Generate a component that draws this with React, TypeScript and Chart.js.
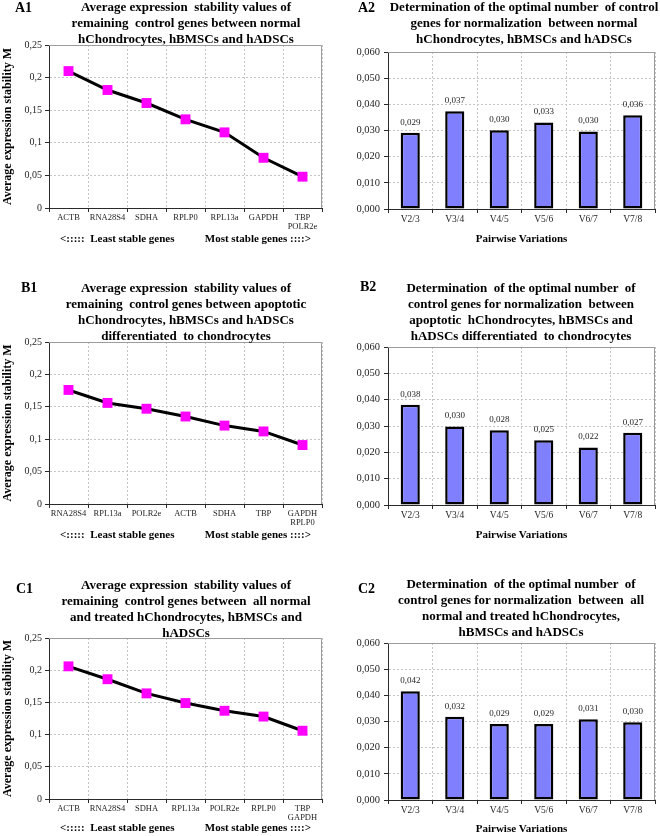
import React, { useEffect, useRef } from 'react';
import { Chart, registerables } from 'chart.js';

Chart.register(...registerables);

const SERIF = "'Liberation Serif', 'Times New Roman', Times, serif";

// ---------- DATA ----------
// A1: normal hChondrocytes, hBMSCs and hADSCs (geNorm M values)
const a1Genes: (string | string[])[] = ['ACTB', 'RNA28S4', 'SDHA', 'RPLP0', 'RPL13a', 'GAPDH', ['TBP', 'POLR2e']];
const a1Stability = [0.210, 0.181, 0.161, 0.136, 0.116, 0.077, 0.048];

// B1: apoptotic cells differentiated to chondrocytes
const b1Genes: (string | string[])[] = ['RNA28S4', 'RPL13a', 'POLR2e', 'ACTB', 'SDHA', 'TBP', ['GAPDH', 'RPLP0']];
const b1Stability = [0.176, 0.156, 0.147, 0.135, 0.121, 0.112, 0.091];

// C1: all normal and treated cells
const c1Genes: (string | string[])[] = ['ACTB', 'RNA28S4', 'SDHA', 'RPL13a', 'POLR2e', 'RPLP0', ['TBP', 'GAPDH']];
const c1Stability = [0.206, 0.186, 0.164, 0.149, 0.137, 0.128, 0.106];

// Pairwise variations (A2, B2, C2)
const pairwiseLabels = ['V2/3', 'V3/4', 'V4/5', 'V5/6', 'V6/7', 'V7/8'];
const a2Variation = [0.0291, 0.0374, 0.0301, 0.0331, 0.0296, 0.0358];
const b2Variation = [0.0381, 0.0298, 0.0284, 0.0246, 0.0218, 0.0274];
const c2Variation = [0.0416, 0.0318, 0.0290, 0.0290, 0.0309, 0.0297];

// Axis ranges / ticks
const stabilityMax = 0.25;
const stabilityStep = 0.05;
const variationMax = 0.06;
const variationStep = 0.01;

// Texts
const stabilityAxisTitle = 'Average expression stability M';
const stabilityXTitle = '<:::::  Least stable genes\u00a0\u00a0\u00a0\u00a0\u00a0\u00a0\u00a0\u00a0\u00a0\u00a0\u00a0Most stable genes ::::>';
const variationXTitle = 'Pairwise Variations';

const a1Title = ['Average expression  stability values of', 'remaining  control genes between normal', 'hChondrocytes, hBMSCs and hADSCs'];
const a2Title = ['Determination of the optimal number  of control', 'genes for normalization  between normal', 'hChondrocytes, hBMSCs and hADSCs'];
const b1Title = ['Average expression  stability values of', 'remaining  control genes between apoptotic', 'hChondrocytes, hBMSCs and hADSCs', 'differentiated  to chondrocytes'];
const b2Title = ['Determination  of the optimal number  of', 'control genes for normalization  between', 'apoptotic  hChondrocytes, hBMSCs and', 'hADSCs differentiated  to chondrocytes'];
const c1Title = ['Average expression  stability values of', 'remaining  control genes between  all normal', 'and treated hChondrocytes, hBMSCs and', 'hADSCs'];
const c2Title = ['Determination  of the optimal number  of', 'control genes for normalization  between  all', 'normal and treated hChondrocytes,', 'hBMSCs and hADSCs'];

// ---------- STYLE ----------
const GRID = '#c4c4c4';
const AXIS = '#2a2a2a';
const TICK = '#1e1e1e';
const FRAME = '#9c9c9c';
const MARKER = '#ff00ff';
const BAR_FILL = '#8080ff';

type Geo = {
  left: number; top: number; width: number; height: number;
  plotLeft: number; plotTop: number; plotRight: number; plotBottom: number;
  xAxisHeight: number;
};

const fmtStability = (v: number) => {
  const s = String(Number(v.toFixed(2)));
  return s.replace('.', ',');
};
const fmtVariation = (v: number) => v.toFixed(3).replace('.', ',');

const plotFrame = {
  id: 'plotFrame',
  beforeDatasetsDraw(chart: any) {
    const { ctx, chartArea } = chart;
    const { left, top, right, bottom } = chartArea;
    ctx.save();
    ctx.strokeStyle = FRAME;
    ctx.lineWidth = 1;
    ctx.beginPath();
    ctx.moveTo(left, top + 0.5);
    ctx.lineTo(right - 0.5, top + 0.5);
    ctx.lineTo(right - 0.5, bottom);
    ctx.stroke();
    ctx.restore();
  },
};

const barValueLabels = {
  id: 'barValueLabels',
  afterDatasetsDraw(chart: any) {
    const { ctx } = chart;
    const meta = chart.getDatasetMeta(0);
    const data = chart.data.datasets[0].data as number[];
    ctx.save();
    ctx.font = `9px ${SERIF}`;
    ctx.fillStyle = TICK;
    ctx.textAlign = 'center';
    ctx.textBaseline = 'bottom';
    meta.data.forEach((el: any, i: number) => {
      ctx.fillText(fmtVariation(data[i]), el.x, el.y - 6);
    });
    ctx.restore();
  },
};

function commonX(geo: Geo, tickSize: number, titleText: string, tickPadding: number) {
  return {
    type: 'category',
    offset: true,
    grid: {
      offset: true,
      color: (c: any) => (c.index === 0 ? 'rgba(0,0,0,0)' : GRID),
      lineWidth: 1,
      tickColor: AXIS,
      tickLength: 4,
      drawOnChartArea: true,
    },
    border: { color: AXIS, width: 1, dash: [2, 2] },
    ticks: {
      font: { family: SERIF, size: tickSize, lineHeight: 1.1 },
      color: TICK,
      padding: tickPadding,
      maxRotation: 0,
      minRotation: 0,
      autoSkip: false,
    },
    title: {
      display: true,
      text: titleText,
      font: { family: SERIF, size: 11, weight: 'bold', lineHeight: 1.2 },
      color: '#000',
      padding: { top: 0, bottom: 0 },
    },
    afterFit: (s: any) => { s.height = geo.xAxisHeight; },
  };
}

function commonY(geo: Geo, max: number, step: number, fmt: (v: number) => string, tickSize: number, tickPad: number, title?: string) {
  return {
    min: 0,
    max,
    grid: {
      color: (c: any) => (c.tick && Math.abs(c.tick.value) < 1e-9 ? 'rgba(0,0,0,0)' : GRID),
      lineWidth: 1,
      tickColor: AXIS,
      tickLength: 4,
    },
    border: { color: AXIS, width: 1, dash: [2, 2] },
    ticks: {
      stepSize: step,
      font: { family: SERIF, size: tickSize },
      color: TICK,
      padding: tickPad,
      callback: (v: any) => fmt(Number(v)),
    },
    title: title
      ? {
          display: true,
          text: title,
          font: { family: SERIF, size: 12, weight: 'bold', lineHeight: 1.2 },
          color: '#000',
          padding: { top: 1, bottom: 0 },
        }
      : { display: false },
    afterFit: (s: any) => { s.width = geo.plotLeft; },
  };
}

function baseOptions(geo: Geo) {
  return {
    responsive: false,
    maintainAspectRatio: false,
    animation: false,
    devicePixelRatio: 1,
    layout: {
      padding: {
        top: geo.plotTop,
        left: 0,
        right: geo.width - geo.plotRight,
        bottom: geo.height - geo.plotBottom - geo.xAxisHeight,
      },
    },
    plugins: {
      legend: { display: false },
      tooltip: { enabled: false },
      title: { display: false },
    },
  };
}

function lineConfig(labels: (string | string[])[], values: number[], geo: Geo): any {
  return {
    type: 'line',
    data: {
      labels,
      datasets: [
        {
          data: values,
          borderColor: '#000',
          borderWidth: 3,
          tension: 0,
          fill: false,
          pointStyle: 'rect',
          pointRadius: 7,
          pointBackgroundColor: MARKER,
          pointBorderColor: MARKER,
          pointBorderWidth: 0,
        },
      ],
    },
    options: {
      ...baseOptions(geo),
      scales: {
        x: commonX(geo, 8.5, stabilityXTitle, 1),
        y: commonY(geo, stabilityMax, stabilityStep, fmtStability, 10, 3, stabilityAxisTitle),
      },
    },
    plugins: [plotFrame],
  };
}

function barConfig(labels: string[], values: number[], geo: Geo): any {
  return {
    type: 'bar',
    data: {
      labels,
      datasets: [
        {
          data: values,
          backgroundColor: BAR_FILL,
          borderColor: '#000',
          borderWidth: 2.5,
          borderSkipped: false,
          categoryPercentage: 1,
          barPercentage: 0.43,
        },
      ],
    },
    options: {
      ...baseOptions(geo),
      scales: {
        x: commonX(geo, 9.5, variationXTitle, 1),
        y: commonY(geo, variationMax, variationStep, fmtVariation, 10.5, 4),
      },
    },
    plugins: [plotFrame, barValueLabels],
  };
}

type PanelProps = {
  geo: Geo;
  config: any;
  title: string[];
  titleCenter: number;
  titleTop: number;
  label: string;
  labelLeft: number;
  labelTop: number;
};

function Panel({ geo, config, title, titleCenter, titleTop, label, labelLeft, labelTop }: PanelProps) {
  const ref = useRef<HTMLCanvasElement | null>(null);
  useEffect(() => {
    if (!ref.current) return;
    const chart = new Chart(ref.current, config);
    return () => chart.destroy();
  }, [config]);
  return (
    <>
      <canvas
        ref={ref}
        width={geo.width}
        height={geo.height}
        style={{ position: 'absolute', left: geo.left, top: geo.top, width: geo.width, height: geo.height }}
      />
      <div
        style={{
          position: 'absolute',
          left: titleCenter - 170,
          top: titleTop,
          width: 340,
          textAlign: 'center',
          fontFamily: SERIF,
          fontWeight: 'bold',
          fontSize: 13,
          lineHeight: '16px',
          whiteSpace: 'pre',
          color: '#000',
        }}
      >
        {title.join('\n')}
      </div>
      <div
        style={{
          position: 'absolute',
          left: labelLeft,
          top: labelTop,
          fontFamily: SERIF,
          fontWeight: 'bold',
          fontSize: 14,
          lineHeight: '16px',
          color: '#000',
        }}
      >
        {label}
      </div>
    </>
  );
}

const geoA1: Geo = { left: 0, top: 0, width: 330, height: 250, plotLeft: 49, plotTop: 45, plotRight: 322, plotBottom: 208, xAxisHeight: 38 };
const geoA2: Geo = { left: 330, top: 0, width: 330, height: 250, plotLeft: 58, plotTop: 52, plotRight: 325, plotBottom: 209, xAxisHeight: 37 };
const geoB1: Geo = { left: 0, top: 280, width: 330, height: 270, plotLeft: 49, plotTop: 62, plotRight: 322, plotBottom: 224, xAxisHeight: 38 };
const geoB2: Geo = { left: 330, top: 280, width: 330, height: 270, plotLeft: 58, plotTop: 67, plotRight: 325, plotBottom: 225, xAxisHeight: 37 };
const geoC1: Geo = { left: 0, top: 560, width: 330, height: 276, plotLeft: 49, plotTop: 78, plotRight: 322, plotBottom: 239, xAxisHeight: 36 };
const geoC2: Geo = { left: 330, top: 560, width: 330, height: 276, plotLeft: 58, plotTop: 83, plotRight: 325, plotBottom: 240, xAxisHeight: 36 };

const cfgA1 = lineConfig(a1Genes, a1Stability, geoA1);
const cfgA2 = barConfig(pairwiseLabels, a2Variation, geoA2);
const cfgB1 = lineConfig(b1Genes, b1Stability, geoB1);
const cfgB2 = barConfig(pairwiseLabels, b2Variation, geoB2);
const cfgC1 = lineConfig(c1Genes, c1Stability, geoC1);
const cfgC2 = barConfig(pairwiseLabels, c2Variation, geoC2);

export default function App() {
  return (
    <div style={{ position: 'absolute', left: 0, top: 0, width: 660, height: 836, background: '#fff', overflow: 'hidden' }}>
      <Panel geo={geoA1} config={cfgA1} title={a1Title} titleCenter={186} titleTop={-1} label="A1" labelLeft={15} labelTop={0} />
      <Panel geo={geoA2} config={cfgA2} title={a2Title} titleCenter={524} titleTop={-1} label="A2" labelLeft={358} labelTop={0} />
      <Panel geo={geoB1} config={cfgB1} title={b1Title} titleCenter={186} titleTop={280} label="B1" labelLeft={21} labelTop={280} />
      <Panel geo={geoB2} config={cfgB2} title={b2Title} titleCenter={521} titleTop={280} label="B2" labelLeft={360} labelTop={279} />
      <Panel geo={geoC1} config={cfgC1} title={c1Title} titleCenter={186} titleTop={577} label="C1" labelLeft={16} labelTop={581} />
      <Panel geo={geoC2} config={cfgC2} title={c2Title} titleCenter={521} titleTop={576} label="C2" labelLeft={358} labelTop={581} />
    </div>
  );
}
